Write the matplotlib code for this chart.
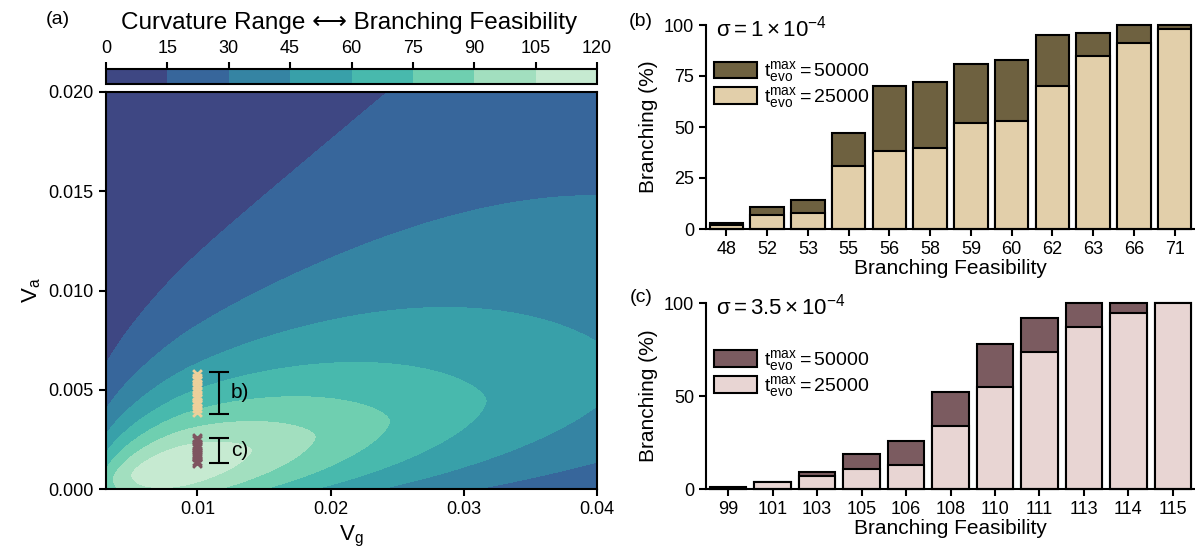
import numpy as np
import matplotlib.pyplot as plt
from matplotlib.patches import Patch

plt.rcParams['font.family'] = ['Liberation Sans', 'DejaVu Sans']
plt.rcParams['mathtext.fontset'] = 'custom'
plt.rcParams['mathtext.rm'] = 'Liberation Sans'
plt.rcParams['mathtext.it'] = 'Liberation Sans'
plt.rcParams['mathtext.bf'] = 'Liberation Sans:bold'
plt.rcParams['axes.linewidth'] = 1.5
plt.rcParams['xtick.major.width'] = 1.5
plt.rcParams['ytick.major.width'] = 1.5
plt.rcParams['xtick.major.size'] = 5
plt.rcParams['ytick.major.size'] = 5
plt.rcParams['font.size'] = 13

# --- panel (a): feasibility landscape over (Vg, Va), shape estimated from the map
peak_value = 118       # top of the ridge
peak_vg = 0.0086       # Vg where the ridge is highest
ridge_slope = 0.14     # ridge centre: Va = ridge_slope * Vg
va_offset = 0.003      # Va is measured as log(Va + va_offset)
width_right, width_left = 1.62, 1.75   # ridge decay in log(Vg)
width_below = 1.1                      # decay below the ridge
above_base, above_gain, above_rate = 0.70, 0.48, 1.323   # decay above the ridge
levels = [0, 15, 30, 45, 60, 75, 90, 105, 120]
band_colors = ['#3e4783', '#37669b', '#3584a3', '#38a0a9',
               '#48b9ad', '#6fcfb0', '#a2dfbf', '#c6ead1']

# Va of the two sampled columns (b) and (c), at Vg = 0.01
sample_vg = 0.01
b_va = [0.0039, 0.0041, 0.0043, 0.0044, 0.0046, 0.0047,
        0.0049, 0.0051, 0.0053, 0.0055, 0.0056, 0.0058]
c_va = [0.0013, 0.0014, 0.0016, 0.0017, 0.0018, 0.0019,
        0.0021, 0.0022, 0.0023, 0.0025, 0.0026]
b_range = [0.0038, 0.0059]
c_range = [0.0013, 0.0026]

# --- panel (b)
b_feas = ['48', '52', '53', '55', '56', '58', '59', '60', '62', '63', '66', '71']
b_25k = [2, 7, 8, 31, 38, 39.5, 52, 53, 70, 85, 91, 98]
b_50k = [3, 11, 14, 47, 70, 72, 81, 83, 95, 96, 100, 100]

# --- panel (c)
c_feas = ['99', '101', '103', '105', '106', '108', '110', '111', '113', '114', '115']
c_25k = [0.5, 4, 7, 11, 13, 34, 55, 74, 87, 95, 100]
c_50k = [1, 4, 9, 19, 26, 52, 78, 92, 100, 100, 100]


def feasibility(g, a):
    u = np.log(g)
    du = u - np.log(peak_vg)
    w = np.where(du > 0, width_right, width_left)
    ridge = peak_value * np.exp(-(np.abs(du) / w) ** 1.8)
    d = np.log(a + va_offset) - np.log(ridge_slope * g + va_offset)
    k_up = above_base + above_gain * np.exp(above_rate * (u - np.log(0.04)))
    k = np.where(d > 0, k_up, width_below)
    return ridge * np.exp(-(np.abs(d) / k) ** 1.6)


gg, aa = np.meshgrid(np.linspace(0.0031, 0.04, 500), np.linspace(0, 0.02, 500))
field = np.clip(feasibility(gg, aa), 0, 119.9)

fig = plt.figure(figsize=(11.95, 5.52), dpi=100)
W, H = 1195, 552


def box(x0, y0, x1, y1):
    return [x0 / W, 1 - y1 / H, (x1 - x0) / W, (y1 - y0) / H]


ax = fig.add_axes(box(105.5, 91.7, 597, 489.3))
cax = fig.add_axes(box(106, 69, 597, 84))

cs = ax.contourf(gg, aa, field, levels=levels, colors=band_colors)
ax.scatter([sample_vg] * len(b_va), b_va, marker='x', s=40, linewidths=2,
           color='#edd09b', zorder=3)
ax.scatter([sample_vg] * len(c_va), c_va, marker='x', s=40, linewidths=2,
           color='#7e5560', zorder=3)
for rng in (b_range, c_range):
    ax.errorbar([0.0116], [(rng[0] + rng[1]) / 2], yerr=[(rng[1] - rng[0]) / 2],
                color='k', capsize=7, elinewidth=1.5, capthick=1.5)
ax.text(0.0125, np.mean(b_range), 'b)', fontsize=15, va='center')
ax.text(0.0125, np.mean(c_range), 'c)', fontsize=15, va='center')
ax.set_xlim(0.0031, 0.04)
ax.set_ylim(0, 0.02)
ax.set_xticks([0.01, 0.02, 0.03, 0.04])
ax.set_xticklabels(['0.01', '0.02', '0.03', '0.04'])
ax.set_yticks([0, 0.005, 0.01, 0.015, 0.02])
ax.set_yticklabels(['0.000', '0.005', '0.010', '0.015', '0.020'])
ax.set_xlabel(r'$\mathrm{V_g}$', fontsize=16)
ax.set_ylabel(r'$\mathrm{V_a}$', fontsize=16)

cb = fig.colorbar(cs, cax=cax, orientation='horizontal')
cb.set_ticks(levels)
cax.xaxis.set_ticks_position('top')
cb.outline.set_linewidth(1.5)
fig.text(349 / W, 1 - 23 / H, 'Curvature Range \u27f7 Branching Feasibility',
         ha='center', va='center', fontsize=17.5)
fig.text(58 / W, 1 - 20 / H, '(a)', ha='center', va='center', fontsize=14)


def bar_panel(axb, cats, v25, v50, dark, light, sigma, leg_y):
    x = np.arange(len(cats))
    axb.bar(x, v50, 0.82, color=dark, edgecolor='k', linewidth=1.5, clip_on=False)
    axb.bar(x, v25, 0.82, color=light, edgecolor='k', linewidth=1.5, clip_on=False)
    axb.set_xlim(-0.5, len(cats) - 0.5)
    axb.set_ylim(0, 100)
    axb.set_xticks(x)
    axb.set_xticklabels(cats)
    axb.spines['top'].set_visible(False)
    axb.spines['right'].set_visible(False)
    axb.set_ylabel('Branching (%)', fontsize=15)
    axb.set_xlabel('Branching Feasibility', fontsize=15, labelpad=1)
    axb.text(0.02, 0.985, sigma, transform=axb.transAxes, ha='left', va='center',
             fontsize=16)
    handles = [Patch(facecolor=dark, edgecolor='k', linewidth=1.5),
               Patch(facecolor=light, edgecolor='k', linewidth=1.5)]
    axb.legend(handles, [r'$\mathrm{t_{evo}^{max} = 50000}$',
                         r'$\mathrm{t_{evo}^{max} = 25000}$'],
               loc='upper left', bbox_to_anchor=(0.0, leg_y), frameon=False,
               fontsize=14, handlelength=2.2, handleheight=0.9,
               labelspacing=0.05, handletextpad=0.4, borderaxespad=0)


axb = fig.add_axes(box(706, 25, 1195, 229))
bar_panel(axb, b_feas, b_25k, b_50k, '#6e6140', '#e2cfaa',
          r'$\mathrm{\sigma = 1 \times 10^{-4}}$', 0.87)
axb.set_yticks([0, 25, 50, 75, 100])

axc = fig.add_axes(box(706, 303.3, 1195, 489))
bar_panel(axc, c_feas, c_25k, c_50k, '#7b5b60', '#e8d5d3',
          r'$\mathrm{\sigma = 3.5 \times 10^{-4}}$', 0.80)
axc.set_yticks([0, 50, 100])

fig.text(641 / W, 1 - 22 / H, '(b)', ha='center', va='center', fontsize=14)
fig.text(641 / W, 1 - 297 / H, '(c)', ha='center', va='center', fontsize=14)

fig.savefig('out.png', dpi=100)
